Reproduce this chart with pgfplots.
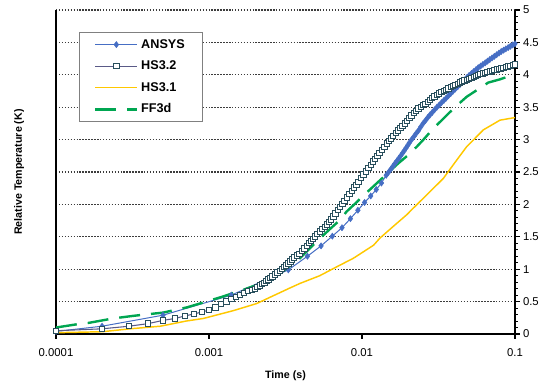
\documentclass[border=0pt]{standalone}
\usepackage{pgfplots}
\pgfplotsset{compat=1.18}
\usepackage{fontspec}
\setmainfont{Liberation Sans}
\definecolor{ansys}{RGB}{70,110,196}
\definecolor{hsline}{RGB}{90,90,135}
\definecolor{hsmark}{RGB}{40,78,92}
\definecolor{hsyellow}{RGB}{255,200,0}
\definecolor{ffgreen}{RGB}{0,166,81}
\definecolor{gridc}{RGB}{60,60,60}
\begin{document}
\begin{tikzpicture}
\useasboundingbox (-42pt,-38.25pt) rectangle (362.25pt,250.5pt);
\begin{axis}[
  at={(0,0)}, anchor=south west,
  scale only axis, width=344.25pt, height=243pt,
  xmode=log, xmin=1e-4, xmax=0.1, ymin=0, ymax=5,
  clip=false,
  axis x line=bottom, axis y line=right,
  x axis line style={-, line width=1pt},
  y axis line style={-, line width=1pt},
  xtick={1e-4,1e-3,1e-2,1e-1}, xticklabels={0.0001,0.001,0.01,0.1},
  xminorticks=false,
  ytick={0,0.5,1,1.5,2,2.5,3,3.5,4,4.5,5},
  yticklabels={0,0.5,1,1.5,2,2.5,3,3.5,4,4.5,5},
  minor y tick num=4,
  tick align=outside,
  major tick length=3.5pt, minor tick length=2.25pt,
  tick style={black, line width=0.8pt},
  ticklabel style={font=\fontsize{8.5}{10}\selectfont},
  xticklabel style={yshift=-4pt},
  yticklabel style={xshift=-1pt},
  ymajorgrids,
  major grid style={gridc, line width=0.8pt, dash pattern=on 1.1pt off 1.1pt},
  extra x ticks={1e-4}, extra x tick labels={},
  extra x tick style={grid=major, major grid style={solid, black, line width=1pt}, major tick length=0pt},
  xlabel={Time (s)}, ylabel={Relative Temperature (K)},
  every axis x label/.style={at={(axis description cs:0.5,-0.1296)}, anchor=center, font=\bfseries\fontsize{8}{9.6}\selectfont},
  every axis y label/.style={at={(axis description cs:-0.0806,0.5)}, anchor=center, rotate=90, font=\bfseries\fontsize{8}{9.6}\selectfont},
  legend cell align=left,
  legend image code/.code={\draw[mark repeat=2,mark phase=2,#1] plot coordinates {(0pt,0pt) (15.75pt,0pt) (31.5pt,0pt)};},
  legend style={at={(axis description cs:0.0501,0.932)}, anchor=north west, draw=gray, line width=0.75pt, fill=white,
    font=\bfseries\fontsize{9.5}{11}\selectfont, inner xsep=11pt, inner ysep=3pt, row sep=4pt},
]
\addplot[color=ansys, line width=0.75pt, mark=diamond*, mark size=2.3pt, mark options={solid, line width=0.4pt}] coordinates {
(1e-4,0.04) (2e-4,0.12) (5e-4,0.29) (1.4e-3,0.60) (3.3e-3,0.99) (4.4e-3,1.20) (5.4e-3,1.36) (6.4e-3,1.51) (7.4e-3,1.64) (8.4e-3,1.78) (9.4e-3,1.91) (0.0104,2.03) (0.0114,2.13) (0.0124,2.23) (0.0134,2.33)
(0.0144,2.45) (0.0149,2.495) (0.0154,2.54) (0.0159,2.585) (0.0164,2.63) (0.0169,2.67) (0.0174,2.71) (0.0179,2.75) (0.0184,2.79) (0.0189,2.83) (0.0194,2.87) (0.0199,2.91) (0.0204,2.95) (0.0211,3.00)
(0.0219,3.05) (0.0226,3.095) (0.0234,3.14) (0.0242,3.195) (0.0251,3.25) (0.026,3.295) (0.0269,3.34) (0.0278,3.38) (0.0288,3.42) (0.0298,3.46) (0.0309,3.50) (0.032,3.535)
(0.0331,3.57) (0.0343,3.605) (0.0355,3.64) (0.0367,3.675) (0.038,3.71) (0.0393,3.745) (0.0407,3.78) (0.0422,3.815) (0.0437,3.85) (0.0452,3.885) (0.0468,3.92) (0.0484,3.955)
(0.0501,3.99) (0.0519,4.02) (0.0537,4.05) (0.0556,4.08) (0.0575,4.11) (0.0596,4.135) (0.0617,4.16) (0.0639,4.185) (0.0661,4.21) (0.0684,4.235) (0.0708,4.26) (0.0733,4.285)
(0.0759,4.31) (0.0786,4.335) (0.0813,4.36) (0.0842,4.38) (0.0871,4.40) (0.0902,4.42) (0.0933,4.44) (0.0966,4.46) (0.1,4.48)
};
\addlegendentry{ANSYS}
\addplot[color=hsline, line width=0.8pt, mark=square*, mark size=2pt, mark options={solid, draw=hsmark, fill=white, line width=0.7pt}] coordinates {
(1e-4,0.05) (2e-4,0.08) (3e-4,0.12) (4e-4,0.16) (5e-4,0.21) (6e-4,0.24) (7e-4,0.28) (8e-4,0.31) (9e-4,0.34) (1e-3,0.37) (1.1e-3,0.41) (1.2e-3,0.46) (1.3e-3,0.50) (1.4e-3,0.54) (1.5e-3,0.57) (1.6e-3,0.60) (1.7e-3,0.63) (1.8e-3,0.66) (1.9e-3,0.68)
(0.002,0.70) (0.00207,0.725) (0.00215,0.75) (0.00222,0.77) (0.0023,0.79) (0.00237,0.815) (0.00245,0.84) (0.00252,0.865) (0.0026,0.89) (0.0027,0.92) (0.0028,0.95) (0.0029,0.975)
(0.003,1.00) (0.0031,1.03) (0.0032,1.06) (0.0033,1.09) (0.0034,1.12) (0.0035,1.15) (0.0036,1.18) (0.00375,1.21) (0.0039,1.24) (0.00405,1.28) (0.0042,1.32) (0.00435,1.36)
(0.0045,1.40) (0.00465,1.435) (0.0048,1.47) (0.00495,1.505) (0.0051,1.54) (0.0053,1.58) (0.0055,1.62) (0.0057,1.655) (0.0059,1.69) (0.0061,1.73) (0.0063,1.77) (0.0065,1.815)
(0.0067,1.86) (0.00695,1.91) (0.0072,1.96) (0.00745,2.005) (0.0077,2.05) (0.008,2.105) (0.0083,2.16) (0.0086,2.21) (0.0089,2.26) (0.0092,2.305) (0.0095,2.35) (0.00985,2.405)
(0.0102,2.46) (0.0106,2.51) (0.011,2.56) (0.0114,2.61) (0.0118,2.66) (0.0122,2.705) (0.0126,2.75) (0.013,2.795) (0.0135,2.84) (0.014,2.89) (0.0145,2.94) (0.015,2.98)
(0.0155,3.02) (0.016,3.06) (0.0166,3.10) (0.0172,3.14) (0.0178,3.18) (0.0184,3.215) (0.019,3.25) (0.0197,3.29) (0.0204,3.33) (0.0211,3.37) (0.0219,3.41) (0.0226,3.445)
(0.0234,3.48) (0.0242,3.505) (0.0251,3.53) (0.026,3.555) (0.0269,3.58) (0.0278,3.61) (0.0288,3.64) (0.0298,3.665) (0.0309,3.69) (0.032,3.71) (0.0331,3.73) (0.0343,3.75)
(0.0355,3.77) (0.0367,3.79) (0.038,3.81) (0.0393,3.825) (0.0407,3.84) (0.0422,3.86) (0.0437,3.88) (0.0452,3.895) (0.0468,3.91) (0.0484,3.925) (0.0501,3.94) (0.0519,3.955)
(0.0537,3.97) (0.0556,3.985) (0.0575,4.00) (0.0596,4.01) (0.0617,4.02) (0.0639,4.03) (0.0661,4.04) (0.0684,4.05) (0.0708,4.06) (0.0733,4.07) (0.0759,4.08) (0.0786,4.09)
(0.0813,4.10) (0.0842,4.11) (0.0871,4.12) (0.0902,4.13) (0.0933,4.14) (0.0966,4.15) (0.1,4.16)
};
\addlegendentry{HS3.2}
\addplot[color=hsyellow, line width=1.1pt, no marks] coordinates {
(1e-4,0.02) (2e-4,0.035) (3.05e-4,0.08) (4.8e-4,0.12) (7.1e-4,0.20) (9.2e-4,0.24) (1.44e-3,0.36) (2.05e-3,0.47) (2.63e-3,0.59) (3.38e-3,0.71) (3.93e-3,0.78) (5.3e-3,0.90) (6.5e-3,1.01) (8.8e-3,1.17) (0.0119,1.37) (0.0131,1.48) (0.016,1.66) (0.0196,1.84) (0.0216,1.94) (0.0271,2.17) (0.034,2.40) (0.0406,2.65) (0.0483,2.89) (0.0621,3.15) (0.0798,3.30) (0.1,3.34)
};
\addlegendentry{HS3.1}
\addplot[color=ffgreen, line width=1.8pt, no marks, dash pattern=on 15.75pt off 8.25pt] coordinates {
(1e-4,0.10) (1.37e-4,0.15) (1.62e-4,0.17) (2.36e-4,0.24) (3.2e-4,0.28) (5.0e-4,0.33) (7.15e-4,0.41) (8.7e-4,0.47) (1.24e-3,0.58) (2.15e-3,0.77) (2.91e-3,0.94) (3.74e-3,1.12) (4.69e-3,1.35) (5.56e-3,1.52) (6.18e-3,1.62) (7.18e-3,1.76) (7.94e-3,1.89) (9.0e-3,2.01) (0.0107,2.18) (0.0119,2.28) (0.0172,2.63) (0.020,2.76) (0.0228,2.89) (0.025,2.99) (0.0287,3.15) (0.0349,3.35) (0.0405,3.50) (0.0483,3.66) (0.0669,3.88) (0.0798,3.93) (0.1,4.01)
};
\addlegendentry{FF3d}
\end{axis}
\end{tikzpicture}
\end{document}
